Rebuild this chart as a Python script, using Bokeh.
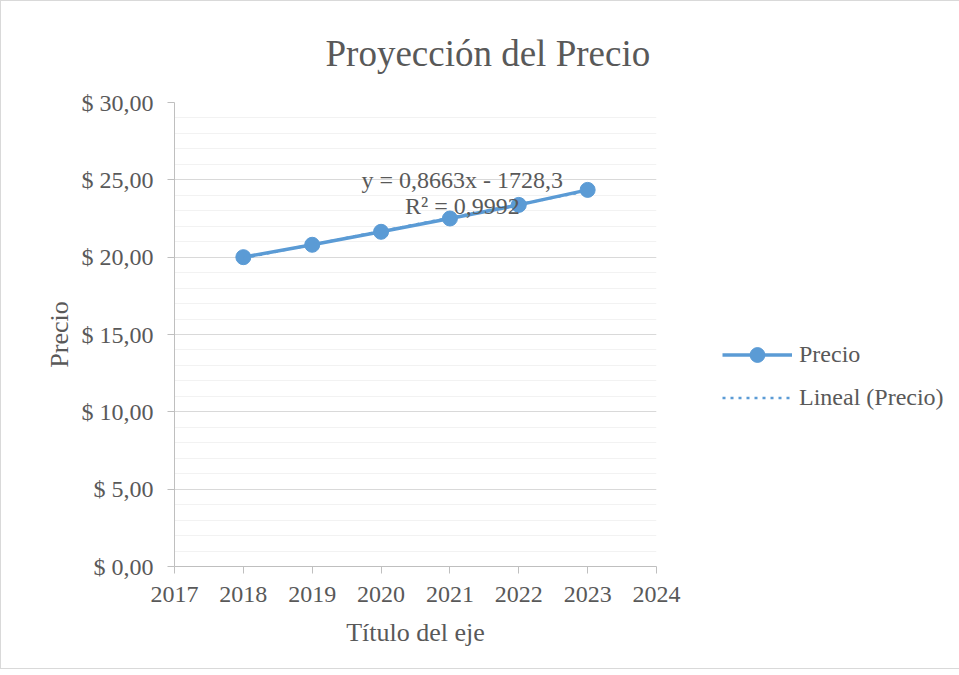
from bokeh.plotting import figure
from bokeh.models import (FixedTicker, CustomJSTickFormatter, Label, Legend, LegendItem, Range1d, Title)
from bokeh.embed import file_html
from bokeh.resources import INLINE
import numpy as np

# ---- data ----
years = [2018, 2019, 2020, 2021, 2022, 2023]
precio = [20.00, 20.80, 21.64, 22.50, 23.38, 24.35]
x_ticks = [2017, 2018, 2019, 2020, 2021, 2022, 2023, 2024]
y_ticks = [0, 5, 10, 15, 20, 25, 30]
y_minor = list(range(0, 31))
title_text = "Proyección del Precio"
eq_text = "y = 0,8663x - 1728,3"
r2_text = "R² = 0,9992"
series_name = "Precio"
trend_name = "Lineal (Precio)"
x_title = "Título del eje"
y_title = "Precio"

FONT = "Liberation Serif"
GRAY = "#595959"
BLUE = "#5b9bd5"

p = figure(frame_width=482, frame_height=464, output_backend="svg", toolbar_location=None,
           x_range=Range1d(2017, 2024), y_range=Range1d(0, 30),
           min_border_left=173, min_border_right=296, min_border_top=101, min_border_bottom=102)
p.outline_line_color = None
p.background_fill_color = "white"
p.border_fill_color = "white"
p.styles = {"border": "1px solid #d9d9d9"}

# grid
p.xgrid.grid_line_color = None
p.ygrid.ticker = FixedTicker(ticks=y_ticks, minor_ticks=y_minor)
p.ygrid.grid_line_color = "#d9d9d9"
p.ygrid.grid_line_width = 1
p.ygrid.minor_grid_line_color = "#f2f2f2"
p.ygrid.minor_grid_line_width = 1

# axes
p.xaxis.ticker = FixedTicker(ticks=x_ticks)
p.yaxis.ticker = FixedTicker(ticks=y_ticks, minor_ticks=y_minor)
p.yaxis.formatter = CustomJSTickFormatter(code='return "$ " + tick.toFixed(2).replace(".", ",");')
for ax in (p.xaxis[0], p.yaxis[0]):
    ax.axis_line_color = "#bfbfbf"
    ax.axis_line_width = 1
    ax.major_tick_line_color = "#bfbfbf"
    ax.major_tick_out = 7
    ax.major_tick_in = 0
    ax.minor_tick_line_color = None
    ax.major_label_text_font = FONT
    ax.major_label_text_font_size = "24px"
    ax.major_label_text_color = GRAY
    ax.axis_label_text_font = FONT
    ax.axis_label_text_font_size = "26px"
    ax.axis_label_text_font_style = "normal"
    ax.axis_label_text_color = GRAY
p.xaxis.major_label_standoff = 13
p.yaxis.major_label_standoff = 14
p.xaxis.axis_label = x_title
p.yaxis.axis_label = y_title
p.xaxis.axis_label_standoff = 13
p.yaxis.axis_label_standoff = 5

# title
p.add_layout(Title(text=title_text, align="left", offset=151, standoff=58,
                   text_font=FONT, text_font_size="37px", text_font_style="normal",
                   text_color=GRAY), "above")

# trendline from least squares fit of the data
coef = np.polyfit(years, precio, 1)
trend_y = list(np.polyval(coef, years))

r_line = p.line(years, precio, line_color=BLUE, line_width=3.5)
r_pts = p.scatter(years, precio, size=15, fill_color=BLUE, line_color=BLUE)
r_trend = p.line(years, trend_y, line_color=BLUE, line_width=2.5, line_dash="3 5")

# trendline label
p.add_layout(Label(x=2021.18, y=25.02, text=eq_text, text_align="center", text_baseline="middle",
                   text_font=FONT, text_font_size="24px", text_color=GRAY))
p.add_layout(Label(x=2021.18, y=23.34, text=r2_text, text_align="center", text_baseline="middle",
                   text_font=FONT, text_font_size="24px", text_color=GRAY))

legend = Legend(items=[LegendItem(label=series_name, renderers=[r_line, r_pts]),
                       LegendItem(label=trend_name, renderers=[r_trend])],
                location=(66, 150), orientation="vertical")
legend.background_fill_alpha = 0
legend.border_line_color = None
legend.padding = 0
legend.margin = 0
legend.glyph_width = 70
legend.glyph_height = 37
legend.label_height = 27
legend.spacing = 6
legend.label_standoff = 7
legend.label_text_font = FONT
legend.label_text_font_size = "24px"
legend.label_text_color = GRAY
p.add_layout(legend, "right")

open("out.html", "w").write(file_html(p, INLINE))
